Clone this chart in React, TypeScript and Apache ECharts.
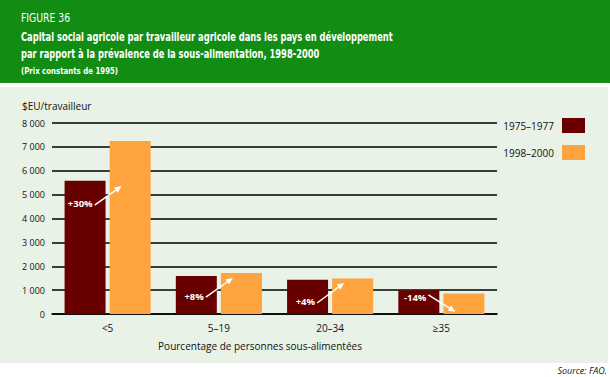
import React, { useEffect, useRef } from "react";
import * as echarts from "echarts";

const categories = ["<5", "5–19", "20–34", "≥35"];
const seriesNames = ["1975–1977", "1998–2000"];
const values1975 = [5580, 1590, 1430, 1000];
const values1998 = [7250, 1720, 1490, 860];
const changeLabels = ["+30%", "+8%", "+4%", "-14%"];
const labelYValues = [4640, 750, 540, 710];
const arrowFromValues = [4560, 710, 460, 800];
const arrowToValues = [5360, 1510, 1300, 90];

const FONT = "'Open Sans', 'Noto Sans', sans-serif";
const NARROW = "'DejaVu Sans Condensed', 'DejaVu Sans', sans-serif";

export default function App() {
  const ref = useRef<HTMLDivElement>(null);
  useEffect(() => {
    if (!ref.current) return;
    const chart = echarts.init(ref.current, undefined, { renderer: "svg" });
    const gridLeft = 52;
    const gridRight = 113;
    const gridTop = 123;
    const gridBottom = 63;
    const baseGraphics: any[] = [
      { type: "rect", z: -10, shape: { x: 0, y: 0, width: 610, height: 83 }, style: { fill: "#138c13" }, silent: true },
      { type: "rect", z: -10, shape: { x: 0, y: 87, width: 608, height: 276 }, style: { fill: "#e8f2e6" }, silent: true },
      { type: "text", x: 21, y: 18, scaleX: 0.86, style: { text: "FIGURE 36", fill: "#ffffff", font: `12px ${NARROW}`, verticalAlign: "middle" } },
      { type: "text", x: 21, y: 37, scaleX: 0.807, style: { text: "Capital social agricole par travailleur agricole dans les pays en développement", fill: "#ffffff", font: `bold 11.5px ${NARROW}`, verticalAlign: "middle" } },
      { type: "text", x: 21, y: 54, scaleX: 0.807, style: { text: "par rapport à la prévalence de la sous-alimentation, 1998-2000", fill: "#ffffff", font: `bold 11.5px ${NARROW}`, verticalAlign: "middle" } },
      { type: "text", x: 21, y: 71, scaleX: 0.82, style: { text: "(Prix constants de 1995)", fill: "#ffffff", font: `bold 9.5px ${NARROW}`, verticalAlign: "middle" } },
      { type: "text", x: 22, y: 106, style: { text: "$EU/travailleur", fill: "#111111", font: `10px ${FONT}`, verticalAlign: "middle" } },
      { type: "text", x: 260, y: 346, style: { text: "Pourcentage de personnes sous-alimentées", fill: "#111111", font: `10px ${FONT}`, align: "center", verticalAlign: "middle" } },
      { type: "text", x: 607, y: 370, style: { text: "Source: FAO.", fill: "#111111", font: `italic 9px ${FONT}`, align: "right", verticalAlign: "middle" } },
    ];
    const option: any = {
      animation: false,
      backgroundColor: "#ffffff",
      grid: { left: gridLeft, right: gridRight, top: gridTop, bottom: gridBottom },
      legend: {
        orient: "vertical",
        right: 20,
        top: 113,
        align: "right",
        icon: "rect",
        itemWidth: 23,
        itemHeight: 15,
        itemGap: 12,
        textStyle: { fontFamily: FONT, fontSize: 10, color: "#111111", padding: [0, 3, 0, 0] },
        data: seriesNames,
      },
      xAxis: {
        type: "category",
        data: categories,
        axisLine: { show: true, lineStyle: { color: "#000000", width: 1.5 } },
        axisTick: { show: false },
        axisLabel: { fontFamily: FONT, fontSize: 10, color: "#111111", margin: 9 },
      },
      yAxis: {
        type: "value",
        min: 0,
        max: 8000,
        interval: 1000,
        axisLine: { show: false },
        axisTick: { show: false },
        axisLabel: {
          fontFamily: FONT,
          fontSize: 9,
          color: "#111111",
          margin: 7,
          formatter: (v: number) => (v >= 1000 ? `${Math.floor(v / 1000)} ${String(v % 1000).padStart(3, "0")}` : String(v)),
        },
        splitLine: { lineStyle: { color: "#000000", width: 1.5 } },
      },
      series: [
        { name: seriesNames[0], type: "bar", data: values1975, barWidth: 41, barGap: "10%", itemStyle: { color: "#690000" } },
        { name: seriesNames[1], type: "bar", data: values1998, barWidth: 41, itemStyle: { color: "#ffa33f" } },
      ],
      graphic: baseGraphics,
    };
    chart.setOption(option);

    const annotations: any[] = [];
    categories.forEach((c, i) => {
      const cx = chart.convertToPixel({ xAxisIndex: 0 }, i) as number;
      const ly = chart.convertToPixel({ yAxisIndex: 0 }, labelYValues[i]) as number;
      const y1 = chart.convertToPixel({ yAxisIndex: 0 }, arrowFromValues[i]) as number;
      const y2 = chart.convertToPixel({ yAxisIndex: 0 }, arrowToValues[i]) as number;
      const x1 = cx - 13;
      const x2 = cx + 14;
      annotations.push({
        type: "text",
        x: cx - 15,
        y: ly,
        z: 10,
        style: { text: changeLabels[i], fill: "#ffffff", font: `bold 9.5px ${FONT}`, align: "right", verticalAlign: "middle" },
      });
      const ang = Math.atan2(y2 - y1, x2 - x1);
      const len = 7;
      const hw = 3.2;
      const bx = x2 - len * Math.cos(ang);
      const by = y2 - len * Math.sin(ang);
      annotations.push({
        type: "line",
        z: 10,
        shape: { x1, y1, x2: bx, y2: by },
        style: { stroke: "#ffffff", lineWidth: 1.5 },
      });
      annotations.push({
        type: "polygon",
        z: 10,
        shape: {
          points: [
            [x2, y2],
            [bx + hw * Math.sin(ang), by - hw * Math.cos(ang)],
            [bx - hw * Math.sin(ang), by + hw * Math.cos(ang)],
          ],
        },
        style: { fill: "#ffffff" },
      });
    });
    chart.setOption({ graphic: [...baseGraphics, ...annotations] });
    return () => chart.dispose();
  }, []);
  return (
    <div style={{ position: "fixed", left: 0, top: 0, width: 610, height: 377, background: "#ffffff" }}>
      <div ref={ref} style={{ width: 610, height: 377 }} />
    </div>
  );
}
